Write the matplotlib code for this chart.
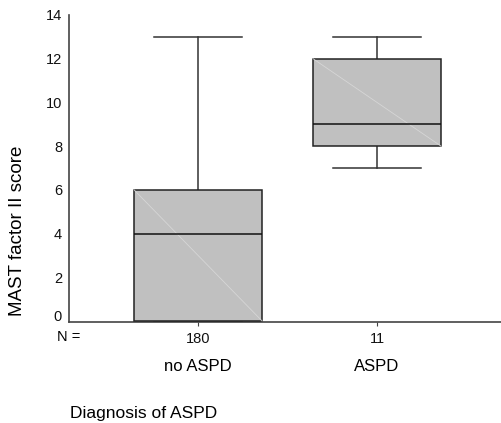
import matplotlib
matplotlib.use("Agg")
import matplotlib.pyplot as plt
import matplotlib.transforms as mtransforms

plt.rcParams['font.family'] = ['Liberation Sans', 'DejaVu Sans']

# data
groups = ['no ASPD', 'ASPD']
n_counts = ['180', '11']
whis_lo = [0, 7]
q1 = [0, 8]
medians = [4, 9]
q3 = [6, 12]
whis_hi = [13, 13]
yticks = [0, 2, 4, 6, 8, 10, 12, 14]

fig = plt.figure(figsize=(5.02, 4.23), dpi=100)
ax = fig.add_axes([69 / 502, 1 - 322 / 423, 1 - 69 / 502, (322 - 15) / 423])

positions = [1, 2]
box_w = 0.715
stats = []
for i in range(len(groups)):
    stats.append({'med': medians[i], 'q1': q1[i], 'q3': q3[i],
                  'whislo': whis_lo[i], 'whishi': whis_hi[i], 'fliers': []})

bp = ax.bxp(stats, positions=positions, widths=box_w, patch_artist=True,
            showfliers=False,
            boxprops={'facecolor': '#c0c0c0', 'edgecolor': '#222222', 'linewidth': 1.1},
            medianprops={'color': '#111111', 'linewidth': 1.1},
            whiskerprops={'color': '#333333', 'linewidth': 1.1},
            capprops={'color': '#333333', 'linewidth': 1.1},
            capwidths=0.49, manage_ticks=False)
for b in bp['boxes']:
    b.set_clip_on(False)
    b.set_zorder(3)
for m in bp['medians']:
    m.set_zorder(4)

# faint diagonal inside each box
for i, p in enumerate(positions):
    ax.plot([p - box_w / 2, p + box_w / 2], [q3[i], q1[i]], color='#d6d6d6',
            linewidth=0.6, zorder=3.5)

ax.set_xlim(1 - 129 / 179, 2 + 125 / 179)
ax.set_ylim(-0.05, 14)
ax.set_yticks(yticks)
ax.tick_params(axis='y', length=0, pad=5, labelsize=10.5, colors='#111111')
# the 0 label sits a little above the axis in the original
ylabels = ax.get_yticklabels()
ylabels[0].set_transform(ylabels[0].get_transform() +
                         mtransforms.ScaledTranslation(0, 5 / 100, fig.dpi_scale_trans))
ax.set_xticks(positions)
ax.set_xticklabels(n_counts)
ax.tick_params(axis='x', length=3, width=0.8, pad=4.5, labelsize=10.5, colors='#111111',
               color='#444444')

for s in ['top', 'right']:
    ax.spines[s].set_visible(False)
for s in ['left', 'bottom']:
    ax.spines[s].set_color('#444444')
    ax.spines[s].set_linewidth(1.2)

ax.set_ylabel('MAST factor II score', fontsize=13.5)
ax.yaxis.set_label_coords(-0.099, 0.296)

trans = mtransforms.blended_transform_factory(ax.transData, fig.transFigure)
for i, g in enumerate(groups):
    ax.text(positions[i], 1 - 366 / 423, g, transform=trans, ha='center', va='center',
            fontsize=12)
fig.text(68.5 / 502, 1 - 337 / 423, 'N =', ha='center', va='center', fontsize=10.5)
fig.text(70 / 502, 1 - 413 / 423, 'Diagnosis of ASPD', ha='left', va='center', fontsize=12.5)

fig.savefig('out.png', dpi=100)
